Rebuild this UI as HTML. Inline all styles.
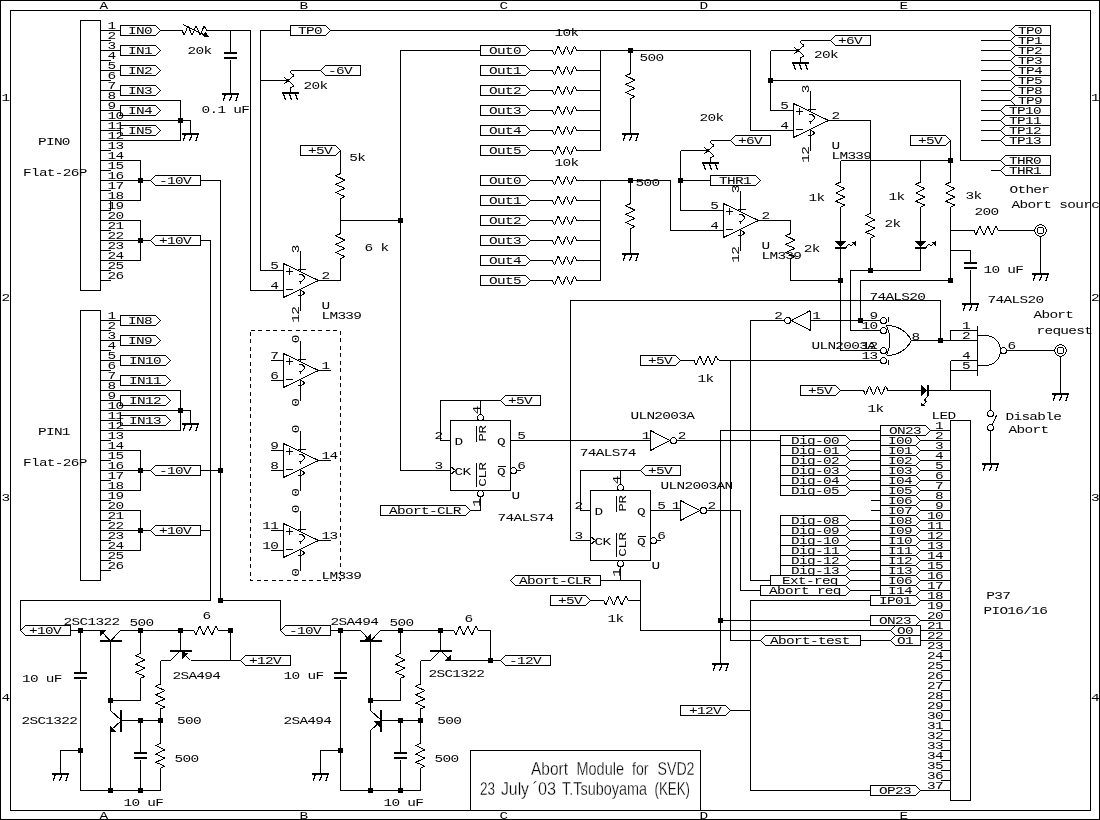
<!DOCTYPE html>
<html><head><meta charset="utf-8"><title>Abort Module for SVD2</title>
<style>
html,body{margin:0;padding:0;background:#fff;}
svg{display:block;will-change:transform}
svg path,svg rect,svg circle{fill:none;stroke:#000;stroke-width:1;shape-rendering:crispEdges;stroke-linejoin:bevel}
svg .j{fill:#000;stroke:none}
svg text{font-family:"Liberation Mono",monospace;font-size:10.6px;letter-spacing:-0.48px;fill:#000;stroke:none}
svg text.t{font-family:"Liberation Sans",sans-serif;font-size:17.8px;letter-spacing:0;stroke:#fff;stroke-width:0.3px;paint-order:fill stroke}
</style></head>
<body>
<svg width="1100" height="820" viewBox="0 0 1100 820">
<rect x="0" y="0" width="1100" height="820" style="fill:#fff;stroke:none"/>
<g transform="translate(0.5 0.5)">
<rect x="0" y="0" width="1099" height="819"/>
<rect x="10" y="10" width="1080" height="800"/>
<text transform="translate(98.9 8.5) scale(1.36 1)">A</text>
<text transform="translate(98.9 818.5) scale(1.36 1)">A</text>
<text transform="translate(298.9 8.5) scale(1.36 1)">B</text>
<text transform="translate(298.9 818.5) scale(1.36 1)">B</text>
<text transform="translate(498.9 8.5) scale(1.36 1)">C</text>
<text transform="translate(498.9 818.5) scale(1.36 1)">C</text>
<text transform="translate(698.9 8.5) scale(1.36 1)">D</text>
<text transform="translate(698.9 818.5) scale(1.36 1)">D</text>
<text transform="translate(898.9 8.5) scale(1.36 1)">E</text>
<text transform="translate(898.9 818.5) scale(1.36 1)">E</text>
<text transform="translate(0.9 100.5) scale(1.36 1)">1</text>
<text transform="translate(1090.4 100.5) scale(1.36 1)">1</text>
<text transform="translate(0.9 300.5) scale(1.36 1)">2</text>
<text transform="translate(1090.4 300.5) scale(1.36 1)">2</text>
<text transform="translate(0.9 500.5) scale(1.36 1)">3</text>
<text transform="translate(1090.4 500.5) scale(1.36 1)">3</text>
<text transform="translate(0.9 700.5) scale(1.36 1)">4</text>
<text transform="translate(1090.4 700.5) scale(1.36 1)">4</text>
<rect x="80" y="20" width="20" height="270"/>
<text transform="translate(106.9 28.2) scale(1.36 1)">1</text>
<text transform="translate(106.9 38.2) scale(1.36 1)">2</text>
<text transform="translate(106.9 48.2) scale(1.36 1)">3</text>
<text transform="translate(106.9 58.2) scale(1.36 1)">4</text>
<text transform="translate(106.9 68.2) scale(1.36 1)">5</text>
<text transform="translate(106.9 78.2) scale(1.36 1)">6</text>
<text transform="translate(106.9 88.2) scale(1.36 1)">7</text>
<text transform="translate(106.9 98.2) scale(1.36 1)">8</text>
<text transform="translate(106.9 108.2) scale(1.36 1)">9</text>
<text transform="translate(106.9 118.2) scale(1.36 1)">10</text>
<text transform="translate(106.9 128.2) scale(1.36 1)">11</text>
<text transform="translate(106.9 138.2) scale(1.36 1)">12</text>
<text transform="translate(106.9 148.2) scale(1.36 1)">13</text>
<text transform="translate(106.9 158.2) scale(1.36 1)">14</text>
<text transform="translate(106.9 168.2) scale(1.36 1)">15</text>
<text transform="translate(106.9 178.2) scale(1.36 1)">16</text>
<text transform="translate(106.9 188.2) scale(1.36 1)">17</text>
<text transform="translate(106.9 198.2) scale(1.36 1)">18</text>
<text transform="translate(106.9 208.2) scale(1.36 1)">19</text>
<text transform="translate(106.9 218.2) scale(1.36 1)">20</text>
<text transform="translate(106.9 228.2) scale(1.36 1)">21</text>
<text transform="translate(106.9 238.2) scale(1.36 1)">22</text>
<text transform="translate(106.9 248.2) scale(1.36 1)">23</text>
<text transform="translate(106.9 258.2) scale(1.36 1)">24</text>
<text transform="translate(106.9 268.2) scale(1.36 1)">25</text>
<text transform="translate(106.9 278.2) scale(1.36 1)">26</text>
<path d="M100 40 L110 40"/>
<path d="M100 60 L110 60"/>
<path d="M100 80 L110 80"/>
<path d="M100 150 L110 150"/>
<path d="M100 170 L110 170"/>
<path d="M100 190 L110 190"/>
<path d="M100 210 L110 210"/>
<path d="M100 230 L110 230"/>
<path d="M100 250 L110 250"/>
<path d="M100 270 L110 270"/>
<path d="M100 280 L110 280"/>
<path d="M100 30 L120 30"/>
<path d="M120 25 H155 L160 30 L155 35 H120 Z"/>
<text transform="translate(139.4 33.5) scale(1.36 1)" text-anchor="middle">IN0</text>
<path d="M100 50 L120 50"/>
<path d="M120 45 H155 L160 50 L155 55 H120 Z"/>
<text transform="translate(139.4 53.5) scale(1.36 1)" text-anchor="middle">IN1</text>
<path d="M100 70 L120 70"/>
<path d="M120 65 H155 L160 70 L155 75 H120 Z"/>
<text transform="translate(139.4 73.5) scale(1.36 1)" text-anchor="middle">IN2</text>
<path d="M100 90 L120 90"/>
<path d="M120 85 H155 L160 90 L155 95 H120 Z"/>
<text transform="translate(139.4 93.5) scale(1.36 1)" text-anchor="middle">IN3</text>
<path d="M100 110 L120 110"/>
<path d="M120 105 H155 L160 110 L155 115 H120 Z"/>
<text transform="translate(139.4 113.5) scale(1.36 1)" text-anchor="middle">IN4</text>
<path d="M100 130 L120 130"/>
<path d="M120 125 H155 L160 130 L155 135 H120 Z"/>
<text transform="translate(139.4 133.5) scale(1.36 1)" text-anchor="middle">IN5</text>
<path d="M100 100 L180 100 L180 140 L100 140"/>
<path d="M100 120 L190 120 L190 133"/>
<rect class="j" x="177.5" y="117.5" width="5" height="5"/>
<path d="M181.5 133.5 L198.5 133.5" style="stroke-width:2"/>
<path d="M185 134 L182.6 140.3" style="stroke-width:1.25"/>
<path d="M191.5 134 L189.1 140.3" style="stroke-width:1.25"/>
<path d="M197.7 134 L195.3 140.3" style="stroke-width:1.25"/>
<path d="M100 160 L140 160 L140 200 L100 200"/>
<path d="M100 180 L150 180"/>
<rect class="j" x="137.5" y="177.5" width="5" height="5"/>
<path d="M150 180 L155 175 H200 V185 H155 Z"/>
<text transform="translate(174.4 183.5) scale(1.36 1)" text-anchor="middle">-10V</text>
<path d="M100 220 L140 220 L140 260 L100 260"/>
<path d="M100 240 L150 240"/>
<rect class="j" x="137.5" y="237.5" width="5" height="5"/>
<path d="M150 240 L155 235 H200 V245 H155 Z"/>
<text transform="translate(174.4 243.5) scale(1.36 1)" text-anchor="middle">+10V</text>
<rect x="80" y="310" width="20" height="270"/>
<text transform="translate(106.9 318.2) scale(1.36 1)">1</text>
<text transform="translate(106.9 328.2) scale(1.36 1)">2</text>
<text transform="translate(106.9 338.2) scale(1.36 1)">3</text>
<text transform="translate(106.9 348.2) scale(1.36 1)">4</text>
<text transform="translate(106.9 358.2) scale(1.36 1)">5</text>
<text transform="translate(106.9 368.2) scale(1.36 1)">6</text>
<text transform="translate(106.9 378.2) scale(1.36 1)">7</text>
<text transform="translate(106.9 388.2) scale(1.36 1)">8</text>
<text transform="translate(106.9 398.2) scale(1.36 1)">9</text>
<text transform="translate(106.9 408.2) scale(1.36 1)">10</text>
<text transform="translate(106.9 418.2) scale(1.36 1)">11</text>
<text transform="translate(106.9 428.2) scale(1.36 1)">12</text>
<text transform="translate(106.9 438.2) scale(1.36 1)">13</text>
<text transform="translate(106.9 448.2) scale(1.36 1)">14</text>
<text transform="translate(106.9 458.2) scale(1.36 1)">15</text>
<text transform="translate(106.9 468.2) scale(1.36 1)">16</text>
<text transform="translate(106.9 478.2) scale(1.36 1)">17</text>
<text transform="translate(106.9 488.2) scale(1.36 1)">18</text>
<text transform="translate(106.9 498.2) scale(1.36 1)">19</text>
<text transform="translate(106.9 508.2) scale(1.36 1)">20</text>
<text transform="translate(106.9 518.2) scale(1.36 1)">21</text>
<text transform="translate(106.9 528.2) scale(1.36 1)">22</text>
<text transform="translate(106.9 538.2) scale(1.36 1)">23</text>
<text transform="translate(106.9 548.2) scale(1.36 1)">24</text>
<text transform="translate(106.9 558.2) scale(1.36 1)">25</text>
<text transform="translate(106.9 568.2) scale(1.36 1)">26</text>
<path d="M100 330 L110 330"/>
<path d="M100 350 L110 350"/>
<path d="M100 370 L110 370"/>
<path d="M100 440 L110 440"/>
<path d="M100 460 L110 460"/>
<path d="M100 480 L110 480"/>
<path d="M100 500 L110 500"/>
<path d="M100 520 L110 520"/>
<path d="M100 540 L110 540"/>
<path d="M100 560 L110 560"/>
<path d="M100 570 L110 570"/>
<path d="M100 320 L120 320"/>
<path d="M120 315 H155 L160 320 L155 325 H120 Z"/>
<text transform="translate(139.4 323.5) scale(1.36 1)" text-anchor="middle">IN8</text>
<path d="M100 340 L120 340"/>
<path d="M120 335 H155 L160 340 L155 345 H120 Z"/>
<text transform="translate(139.4 343.5) scale(1.36 1)" text-anchor="middle">IN9</text>
<path d="M100 360 L120 360"/>
<path d="M120 355 H165 L170 360 L165 365 H120 Z"/>
<text transform="translate(144.4 363.5) scale(1.36 1)" text-anchor="middle">IN10</text>
<path d="M100 380 L120 380"/>
<path d="M120 375 H165 L170 380 L165 385 H120 Z"/>
<text transform="translate(144.4 383.5) scale(1.36 1)" text-anchor="middle">IN11</text>
<path d="M100 400 L120 400"/>
<path d="M120 395 H165 L170 400 L165 405 H120 Z"/>
<text transform="translate(144.4 403.5) scale(1.36 1)" text-anchor="middle">IN12</text>
<path d="M100 420 L120 420"/>
<path d="M120 415 H165 L170 420 L165 425 H120 Z"/>
<text transform="translate(144.4 423.5) scale(1.36 1)" text-anchor="middle">IN13</text>
<path d="M100 390 L180 390 L180 430 L100 430"/>
<path d="M100 410 L190 410 L190 423"/>
<rect class="j" x="177.5" y="407.5" width="5" height="5"/>
<path d="M181.5 423.5 L198.5 423.5" style="stroke-width:2"/>
<path d="M185 424 L182.6 430.3" style="stroke-width:1.25"/>
<path d="M191.5 424 L189.1 430.3" style="stroke-width:1.25"/>
<path d="M197.7 424 L195.3 430.3" style="stroke-width:1.25"/>
<path d="M100 450 L140 450 L140 490 L100 490"/>
<path d="M100 470 L150 470"/>
<rect class="j" x="137.5" y="467.5" width="5" height="5"/>
<path d="M150 470 L155 465 H200 V475 H155 Z"/>
<text transform="translate(174.4 473.5) scale(1.36 1)" text-anchor="middle">-10V</text>
<path d="M100 510 L140 510 L140 550 L100 550"/>
<path d="M100 530 L150 530"/>
<rect class="j" x="137.5" y="527.5" width="5" height="5"/>
<path d="M150 530 L155 525 H200 V535 H155 Z"/>
<text transform="translate(174.4 533.5) scale(1.36 1)" text-anchor="middle">+10V</text>
<path d="M110 200 L110 210"/>
<text transform="translate(37.4 144.2) scale(1.36 1)">PIN0</text>
<text transform="translate(22.4 175.2) scale(1.36 1)">Flat-26P</text>
<text transform="translate(37.4 434.2) scale(1.36 1)">PIN1</text>
<text transform="translate(22.4 465.2) scale(1.36 1)">Flat-26P</text>
<path d="M200 180 L220 180 L220 600 L280 600 L280 630"/>
<path d="M200 470 L220 470"/>
<rect class="j" x="217.5" y="467.5" width="5" height="5"/>
<rect class="j" x="217.5" y="597.5" width="5" height="5"/>
<path d="M200 240 L210 240 L210 600 L20 600 L20 630"/>
<path d="M200 530 L210 530"/>
<path d="M160 30 L181.7 30"/>
<path d="M181.7 30 L183.6 34.7 L187.5 25.4 L191.6 34.7 L195.6 25.4 L199.6 34.7 L203.7 25.4 L206.1 30"/>
<path d="M206.1 30 L250 30"/>
<path d="M250 30 L250 290 L283 290"/>
<path d="M182.5 24 L206 35.5"/>
<path class="j" d="M208.5 36.5 L201.5 35.8 L205 31 Z"/>
<text transform="translate(186.9 53.2) scale(1.36 1)">20k</text>
<path d="M230 30 L230 52"/>
<rect class="j" x="223.5" y="51.5" width="13" height="2"/>
<rect class="j" x="223.5" y="56.5" width="13" height="2"/>
<path d="M230 59 L230 94"/>
<path d="M221.5 93.5 L238.5 93.5" style="stroke-width:2"/>
<path d="M225 94 L222.6 100.3" style="stroke-width:1.25"/>
<path d="M231.5 94 L229.1 100.3" style="stroke-width:1.25"/>
<path d="M237.7 94 L235.3 100.3" style="stroke-width:1.25"/>
<text transform="translate(200.9 112.2) scale(1.36 1)">0.1 uF</text>
<path d="M283 270 L260 270 L260 30 L290 30"/>
<path d="M290 25 H325 L330 30 L325 35 H290 Z"/>
<text transform="translate(309.4 33.5) scale(1.36 1)" text-anchor="middle">TP0</text>
<path d="M330 30 L1010 30"/>
<path d="M320 70 L325 65 H360 V75 H325 Z"/>
<text transform="translate(339.4 73.5) scale(1.36 1)" text-anchor="middle">-6V</text>
<path d="M320 70 L290 70"/>
<path d="M290 70 L290 72 L293.6 75 L287.6 80 L293.6 85.2 L290 87.5 L290 92"/>
<path d="M283.7 77 L287.8 80 L283.7 83.2"/>
<path d="M281.5 92.5 L298.5 92.5" style="stroke-width:2"/>
<path d="M283 94 L285.2 99.5" style="stroke-width:1.25"/>
<path d="M289 94 L291.2 99.5" style="stroke-width:1.25"/>
<path d="M295 94 L297.2 99.5" style="stroke-width:1.25"/>
<path d="M260 80 L288 80"/>
<text transform="translate(302.9 88.7) scale(1.36 1)">20k</text>
<path d="M283 263 L318 280 L283 297 L283 263"/>
<path d="M260 270 L283 270"/>
<path d="M250 290 L283 290"/>
<path d="M285.5 271 L292.5 271"/>
<path d="M289 267.5 L289 274.5"/>
<path d="M285.5 289 L292.5 289"/>
<path d="M300 250 L300 271"/>
<path d="M297.5 269 L305 269"/>
<path d="M298 274 L301.5 274 L304.5 277.2 L301.5 280.5 L298 280.5"/>
<path d="M300 280.5 L300 283"/>
<path d="M300 289 L300 310"/>
<path d="M300 289 L304 292.5 L300 296"/>
<path d="M297.5 294.5 L301 294.5"/>
<text transform="translate(277.7 268.5) scale(1.36 1)" text-anchor="end">5</text>
<text transform="translate(277.7 288.5) scale(1.36 1)" text-anchor="end">4</text>
<text transform="translate(320.9 278.5) scale(1.36 1)">2</text>
<text transform="translate(298.5 252.8) rotate(-90) scale(1.36 1)">3</text>
<text transform="translate(298.5 322.3) rotate(-90) scale(1.36 1)">12</text>
<text transform="translate(320.9 308.5) scale(1.36 1)">U</text>
<text transform="translate(320.9 318.5) scale(1.36 1)">LM339</text>
<path d="M318 280 L340 280"/>
<path d="M340 220 L340 233"/>
<path d="M340 233 L335.2 235.3 L344.4 239.6 L335.2 243.9 L344.4 247.9 L335.2 252.1 L344.4 256.1 L340 258"/>
<path d="M340 258 L340 280"/>
<path d="M340 150 L340 173"/>
<path d="M340 173 L335.2 175.3 L344.4 179.6 L335.2 183.9 L344.4 187.9 L335.2 192.1 L344.4 196.1 L340 198"/>
<path d="M340 198 L340 220"/>
<path d="M300 145 H335 L340 150 L335 155 H300 Z"/>
<text transform="translate(319.4 153.5) scale(1.36 1)" text-anchor="middle">+5V</text>
<text transform="translate(348.7 160.5) scale(1.36 1)">5k</text>
<text transform="translate(363.9 250.2) scale(1.36 1)">6 k</text>
<path d="M340 220 L400 220"/>
<rect class="j" x="397.5" y="217.5" width="5" height="5"/>
<path d="M480 50 L400 50 L400 470 L450 470"/>
<rect x="250" y="330" width="90" height="250" stroke-dasharray="4 3.5"/>
<path d="M283 353 L318 370 L283 387 L283 353"/>
<path d="M270 360 L283 360"/>
<path d="M270 380 L283 380"/>
<path d="M285.5 361 L292.5 361"/>
<path d="M289 357.5 L289 364.5"/>
<path d="M285.5 379 L292.5 379"/>
<path d="M300 340 L300 361"/>
<path d="M297.5 359 L305 359"/>
<path d="M298 364 L301.5 364 L304.5 367.2 L301.5 370.5 L298 370.5"/>
<path d="M300 370.5 L300 373"/>
<path d="M300 379 L300 400"/>
<path d="M300 379 L304 382.5 L300 386"/>
<path d="M297.5 384.5 L301 384.5"/>
<text transform="translate(277.7 358.5) scale(1.36 1)" text-anchor="end">7</text>
<text transform="translate(277.7 378.5) scale(1.36 1)" text-anchor="end">6</text>
<text transform="translate(320.9 368.5) scale(1.36 1)">1</text>
<text transform="translate(298.5 342.8) rotate(-90) scale(1.36 1)">0</text>
<text transform="translate(298.5 406.3) rotate(-90) scale(1.36 1)">0</text>
<path d="M318 370 L330 370"/>
<path d="M283 443 L318 460 L283 477 L283 443"/>
<path d="M270 450 L283 450"/>
<path d="M270 470 L283 470"/>
<path d="M285.5 451 L292.5 451"/>
<path d="M289 447.5 L289 454.5"/>
<path d="M285.5 469 L292.5 469"/>
<path d="M300 430 L300 451"/>
<path d="M297.5 449 L305 449"/>
<path d="M298 454 L301.5 454 L304.5 457.2 L301.5 460.5 L298 460.5"/>
<path d="M300 460.5 L300 463"/>
<path d="M300 469 L300 490"/>
<path d="M300 469 L304 472.5 L300 476"/>
<path d="M297.5 474.5 L301 474.5"/>
<text transform="translate(277.7 448.5) scale(1.36 1)" text-anchor="end">9</text>
<text transform="translate(277.7 468.5) scale(1.36 1)" text-anchor="end">8</text>
<text transform="translate(320.9 458.5) scale(1.36 1)">14</text>
<text transform="translate(298.5 432.8) rotate(-90) scale(1.36 1)">0</text>
<text transform="translate(298.5 496.3) rotate(-90) scale(1.36 1)">0</text>
<path d="M318 460 L330 460"/>
<path d="M283 523 L318 540 L283 557 L283 523"/>
<path d="M270 530 L283 530"/>
<path d="M270 550 L283 550"/>
<path d="M285.5 531 L292.5 531"/>
<path d="M289 527.5 L289 534.5"/>
<path d="M285.5 549 L292.5 549"/>
<path d="M300 510 L300 531"/>
<path d="M297.5 529 L305 529"/>
<path d="M298 534 L301.5 534 L304.5 537.2 L301.5 540.5 L298 540.5"/>
<path d="M300 540.5 L300 543"/>
<path d="M300 549 L300 570"/>
<path d="M300 549 L304 552.5 L300 556"/>
<path d="M297.5 554.5 L301 554.5"/>
<text transform="translate(277.7 528.5) scale(1.36 1)" text-anchor="end">11</text>
<text transform="translate(277.7 548.5) scale(1.36 1)" text-anchor="end">10</text>
<text transform="translate(320.9 538.5) scale(1.36 1)">13</text>
<text transform="translate(298.5 512.8) rotate(-90) scale(1.36 1)">0</text>
<text transform="translate(298.5 576.3) rotate(-90) scale(1.36 1)">0</text>
<path d="M318 540 L330 540"/>
<text transform="translate(320.9 578.7) scale(1.36 1)">LM339</text>
<path d="M480 45 H525 L530 50 L525 55 H480 Z"/>
<text transform="translate(504.4 53.5) scale(1.36 1)" text-anchor="middle">Out0</text>
<path d="M530 50 L552 50"/>
<path d="M552 50 L553.9 54.7 L557.8 45.4 L561.9 54.7 L565.9 45.4 L569.9 54.7 L574 45.4 L576.4 50"/>
<path d="M576.4 50 L600 50"/>
<path d="M480 65 H525 L530 70 L525 75 H480 Z"/>
<text transform="translate(504.4 73.5) scale(1.36 1)" text-anchor="middle">Out1</text>
<path d="M530 70 L552 70"/>
<path d="M552 70 L553.9 74.7 L557.8 65.4 L561.9 74.7 L565.9 65.4 L569.9 74.7 L574 65.4 L576.4 70"/>
<path d="M576.4 70 L600 70"/>
<path d="M480 85 H525 L530 90 L525 95 H480 Z"/>
<text transform="translate(504.4 93.5) scale(1.36 1)" text-anchor="middle">Out2</text>
<path d="M530 90 L552 90"/>
<path d="M552 90 L553.9 94.7 L557.8 85.4 L561.9 94.7 L565.9 85.4 L569.9 94.7 L574 85.4 L576.4 90"/>
<path d="M576.4 90 L600 90"/>
<path d="M480 105 H525 L530 110 L525 115 H480 Z"/>
<text transform="translate(504.4 113.5) scale(1.36 1)" text-anchor="middle">Out3</text>
<path d="M530 110 L552 110"/>
<path d="M552 110 L553.9 114.7 L557.8 105.4 L561.9 114.7 L565.9 105.4 L569.9 114.7 L574 105.4 L576.4 110"/>
<path d="M576.4 110 L600 110"/>
<path d="M480 125 H525 L530 130 L525 135 H480 Z"/>
<text transform="translate(504.4 133.5) scale(1.36 1)" text-anchor="middle">Out4</text>
<path d="M530 130 L552 130"/>
<path d="M552 130 L553.9 134.7 L557.8 125.4 L561.9 134.7 L565.9 125.4 L569.9 134.7 L574 125.4 L576.4 130"/>
<path d="M576.4 130 L600 130"/>
<path d="M480 145 H525 L530 150 L525 155 H480 Z"/>
<text transform="translate(504.4 153.5) scale(1.36 1)" text-anchor="middle">Out5</text>
<path d="M530 150 L552 150"/>
<path d="M552 150 L553.9 154.7 L557.8 145.4 L561.9 154.7 L565.9 145.4 L569.9 154.7 L574 145.4 L576.4 150"/>
<path d="M576.4 150 L600 150"/>
<path d="M600 50 L600 150"/>
<path d="M480 175 H525 L530 180 L525 185 H480 Z"/>
<text transform="translate(504.4 183.5) scale(1.36 1)" text-anchor="middle">Out0</text>
<path d="M530 180 L552 180"/>
<path d="M552 180 L553.9 184.7 L557.8 175.4 L561.9 184.7 L565.9 175.4 L569.9 184.7 L574 175.4 L576.4 180"/>
<path d="M576.4 180 L600 180"/>
<path d="M480 195 H525 L530 200 L525 205 H480 Z"/>
<text transform="translate(504.4 203.5) scale(1.36 1)" text-anchor="middle">Out1</text>
<path d="M530 200 L552 200"/>
<path d="M552 200 L553.9 204.7 L557.8 195.4 L561.9 204.7 L565.9 195.4 L569.9 204.7 L574 195.4 L576.4 200"/>
<path d="M576.4 200 L600 200"/>
<path d="M480 215 H525 L530 220 L525 225 H480 Z"/>
<text transform="translate(504.4 223.5) scale(1.36 1)" text-anchor="middle">Out2</text>
<path d="M530 220 L552 220"/>
<path d="M552 220 L553.9 224.7 L557.8 215.4 L561.9 224.7 L565.9 215.4 L569.9 224.7 L574 215.4 L576.4 220"/>
<path d="M576.4 220 L600 220"/>
<path d="M480 235 H525 L530 240 L525 245 H480 Z"/>
<text transform="translate(504.4 243.5) scale(1.36 1)" text-anchor="middle">Out3</text>
<path d="M530 240 L552 240"/>
<path d="M552 240 L553.9 244.7 L557.8 235.4 L561.9 244.7 L565.9 235.4 L569.9 244.7 L574 235.4 L576.4 240"/>
<path d="M576.4 240 L600 240"/>
<path d="M480 255 H525 L530 260 L525 265 H480 Z"/>
<text transform="translate(504.4 263.5) scale(1.36 1)" text-anchor="middle">Out4</text>
<path d="M530 260 L552 260"/>
<path d="M552 260 L553.9 264.7 L557.8 255.4 L561.9 264.7 L565.9 255.4 L569.9 264.7 L574 255.4 L576.4 260"/>
<path d="M576.4 260 L600 260"/>
<path d="M480 275 H525 L530 280 L525 285 H480 Z"/>
<text transform="translate(504.4 283.5) scale(1.36 1)" text-anchor="middle">Out5</text>
<path d="M530 280 L552 280"/>
<path d="M552 280 L553.9 284.7 L557.8 275.4 L561.9 284.7 L565.9 275.4 L569.9 284.7 L574 275.4 L576.4 280"/>
<path d="M576.4 280 L600 280"/>
<path d="M600 180 L600 280"/>
<text transform="translate(553.9 35.5) scale(1.36 1)">10k</text>
<text transform="translate(553.9 165.5) scale(1.36 1)">10k</text>
<path d="M600 50 L750 50 L750 130 L793 130"/>
<rect class="j" x="627.5" y="47.5" width="5" height="5"/>
<path d="M630 50 L630 73"/>
<path d="M630 73 L625.2 75.3 L634.4 79.6 L625.2 83.9 L634.4 87.9 L625.2 92.1 L634.4 96.1 L630 98"/>
<path d="M630 98 L630 133"/>
<path d="M621.5 133.5 L638.5 133.5" style="stroke-width:2"/>
<path d="M625 134 L622.6 140.3" style="stroke-width:1.25"/>
<path d="M631.5 134 L629.1 140.3" style="stroke-width:1.25"/>
<path d="M637.7 134 L635.3 140.3" style="stroke-width:1.25"/>
<text transform="translate(639 60.5) scale(1.36 1)">500</text>
<path d="M600 180 L670 180 L670 230 L723 230"/>
<rect class="j" x="627.5" y="177.5" width="5" height="5"/>
<path d="M630 180 L630 203"/>
<path d="M630 203 L625.2 205.3 L634.4 209.6 L625.2 213.9 L634.4 217.9 L625.2 222.1 L634.4 226.1 L630 228"/>
<path d="M630 228 L630 253"/>
<path d="M621.5 253.5 L638.5 253.5" style="stroke-width:2"/>
<path d="M625 254 L622.6 260.3" style="stroke-width:1.25"/>
<path d="M631.5 254 L629.1 260.3" style="stroke-width:1.25"/>
<path d="M637.7 254 L635.3 260.3" style="stroke-width:1.25"/>
<text transform="translate(635 185.5) scale(1.36 1)">500</text>
<path d="M730 140 L735 135 H770 V145 H735 Z"/>
<text transform="translate(749.4 143.5) scale(1.36 1)" text-anchor="middle">+6V</text>
<path d="M730 140 L710 140"/>
<path d="M710 140 L710 142 L713.6 145 L707.6 150 L713.6 155.2 L710 157.5 L710 162"/>
<path d="M703.7 147 L707.8 150 L703.7 153.2"/>
<path d="M701.5 162.5 L718.5 162.5" style="stroke-width:2"/>
<path d="M703 164 L705.2 169.5" style="stroke-width:1.25"/>
<path d="M709 164 L711.2 169.5" style="stroke-width:1.25"/>
<path d="M715 164 L717.2 169.5" style="stroke-width:1.25"/>
<path d="M680 150 L708 150"/>
<text transform="translate(698.9 120.5) scale(1.36 1)">20k</text>
<path d="M680 150 L680 210 L723 210"/>
<rect class="j" x="677.5" y="177.5" width="5" height="5"/>
<path d="M680 180 L710 180"/>
<path d="M710 175 H755 L760 180 L755 185 H710 Z"/>
<text transform="translate(734.4 183.5) scale(1.36 1)" text-anchor="middle">THR1</text>
<path d="M723 203 L758 220 L723 237 L723 203"/>
<path d="M723 210 L723 210"/>
<path d="M723 230 L723 230"/>
<path d="M725.5 211 L732.5 211"/>
<path d="M729 207.5 L729 214.5"/>
<path d="M725.5 229 L732.5 229"/>
<path d="M740 190 L740 211"/>
<path d="M737.5 209 L745 209"/>
<path d="M738 214 L741.5 214 L744.5 217.2 L741.5 220.5 L738 220.5"/>
<path d="M740 220.5 L740 223"/>
<path d="M740 229 L740 250"/>
<path d="M740 229 L744 232.5 L740 236"/>
<path d="M737.5 234.5 L741 234.5"/>
<text transform="translate(717.7 208.5) scale(1.36 1)" text-anchor="end">5</text>
<text transform="translate(717.7 228.5) scale(1.36 1)" text-anchor="end">4</text>
<text transform="translate(760.9 218.5) scale(1.36 1)">2</text>
<text transform="translate(738.5 192.8) rotate(-90) scale(1.36 1)">3</text>
<text transform="translate(738.5 262.3) rotate(-90) scale(1.36 1)">12</text>
<text transform="translate(760.9 248.5) scale(1.36 1)">U</text>
<text transform="translate(760.9 258.5) scale(1.36 1)">LM339</text>
<path d="M758 220 L790 220"/>
<path d="M790 220 L790 233"/>
<path d="M790 233 L785.2 235.3 L794.4 239.6 L785.2 243.9 L794.4 247.9 L785.2 252.1 L794.4 256.1 L790 258"/>
<path d="M790 258 L790 280"/>
<path d="M790 280 L840 280"/>
<rect class="j" x="837.5" y="277.5" width="5" height="5"/>
<text transform="translate(803.2 251.5) scale(1.36 1)">2k</text>
<path d="M830 40 L835 35 H870 V45 H835 Z"/>
<text transform="translate(849.4 43.5) scale(1.36 1)" text-anchor="middle">+6V</text>
<path d="M830 40 L800 40"/>
<path d="M800 40 L800 42 L803.6 45 L797.6 50 L803.6 55.2 L800 57.5 L800 62"/>
<path d="M793.7 47 L797.8 50 L793.7 53.2"/>
<path d="M791.5 62.5 L808.5 62.5" style="stroke-width:2"/>
<path d="M793 64 L795.2 69.5" style="stroke-width:1.25"/>
<path d="M799 64 L801.2 69.5" style="stroke-width:1.25"/>
<path d="M805 64 L807.2 69.5" style="stroke-width:1.25"/>
<path d="M770 50 L798 50"/>
<text transform="translate(813.6 57.5) scale(1.36 1)">20k</text>
<path d="M770 50 L770 110 L793 110"/>
<rect class="j" x="767.5" y="77.5" width="5" height="5"/>
<path d="M770 80 L960 80 L960 160 L1000 160"/>
<path d="M793 103 L828 120 L793 137 L793 103"/>
<path d="M793 110 L793 110"/>
<path d="M793 130 L793 130"/>
<path d="M795.5 111 L802.5 111"/>
<path d="M799 107.5 L799 114.5"/>
<path d="M795.5 129 L802.5 129"/>
<path d="M810 90 L810 111"/>
<path d="M807.5 109 L815 109"/>
<path d="M808 114 L811.5 114 L814.5 117.2 L811.5 120.5 L808 120.5"/>
<path d="M810 120.5 L810 123"/>
<path d="M810 129 L810 150"/>
<path d="M810 129 L814 132.5 L810 136"/>
<path d="M807.5 134.5 L811 134.5"/>
<text transform="translate(787.7 108.5) scale(1.36 1)" text-anchor="end">5</text>
<text transform="translate(787.7 128.5) scale(1.36 1)" text-anchor="end">4</text>
<text transform="translate(830.9 118.5) scale(1.36 1)">2</text>
<text transform="translate(808.5 92.8) rotate(-90) scale(1.36 1)">3</text>
<text transform="translate(808.5 162.3) rotate(-90) scale(1.36 1)">12</text>
<text transform="translate(830.9 148.5) scale(1.36 1)">U</text>
<text transform="translate(830.9 158.5) scale(1.36 1)">LM339</text>
<path d="M828 120 L870 120"/>
<path d="M870 120 L870 212.7"/>
<path d="M870 212.7 L865.2 215 L874.4 219.3 L865.2 223.6 L874.4 227.6 L865.2 231.8 L874.4 235.8 L870 237.7"/>
<path d="M870 237.7 L870 270"/>
<rect class="j" x="867.5" y="267.5" width="5" height="5"/>
<text transform="translate(883.9 226.5) scale(1.36 1)">2k</text>
<path d="M910 135 H945 L950 140 L945 145 H910 Z"/>
<text transform="translate(929.4 143.5) scale(1.36 1)" text-anchor="middle">+5V</text>
<path d="M950 140 L950 181.6"/>
<path d="M950 181.6 L945.2 183.9 L954.4 188.2 L945.2 192.5 L954.4 196.5 L945.2 200.7 L954.4 204.7 L950 206.6"/>
<path d="M950 206.6 L950 280"/>
<rect class="j" x="947.5" y="157.5" width="5" height="5"/>
<rect class="j" x="947.5" y="277.5" width="5" height="5"/>
<path d="M840 160 L950 160"/>
<path d="M840 160 L840 181.6"/>
<path d="M840 181.6 L835.2 183.9 L844.4 188.2 L835.2 192.5 L844.4 196.5 L835.2 200.7 L844.4 204.7 L840 206.6"/>
<path d="M840 206.6 L840 241"/>
<path class="j" d="M834.5 240.5 L845.5 240.5 L840 247 Z"/>
<path d="M834.5 247.5 L845.5 247.5" style="stroke-width:2"/>
<path d="M845.5 247 L848.5 243.5 L850.5 245.5 L854 242"/>
<path class="j" d="M856 240.5 L851.8 241.8 L855 245.2 Z"/>
<path d="M920 160 L920 181.6"/>
<path d="M920 181.6 L915.2 183.9 L924.4 188.2 L915.2 192.5 L924.4 196.5 L915.2 200.7 L924.4 204.7 L920 206.6"/>
<path d="M920 206.6 L920 241"/>
<path class="j" d="M914.5 240.5 L925.5 240.5 L920 247 Z"/>
<path d="M914.5 247.5 L925.5 247.5" style="stroke-width:2"/>
<path d="M925.5 247 L928.5 243.5 L930.5 245.5 L934 242"/>
<path class="j" d="M936 240.5 L931.8 241.8 L935 245.2 Z"/>
<path d="M840 248 L840 350 L880 350"/>
<path d="M920 248 L920 270 L850 270 L850 330 L880 330"/>
<path d="M950 280 L860 280 L860 320"/>
<rect class="j" x="857.5" y="317.5" width="5" height="5"/>
<text transform="translate(807.9 200.5) scale(1.36 1)">1k</text>
<text transform="translate(887.9 199.5) scale(1.36 1)">1k</text>
<text transform="translate(964.9 198.8) scale(1.36 1)">3k</text>
<path d="M950 230 L973.5 230"/>
<path d="M973.5 230 L975.4 234.7 L979.3 225.4 L983.4 234.7 L987.4 225.4 L991.4 234.7 L995.5 225.4 L997.9 230"/>
<path d="M997.9 230 L1034 230"/>
<circle cx="1040" cy="230" r="5.8"/>
<circle cx="1040" cy="230" r="3.3"/>
<path d="M1040 236 L1040 273"/>
<path d="M1031.5 273.5 L1048.5 273.5" style="stroke-width:2"/>
<path d="M1035 274 L1032.6 280.3" style="stroke-width:1.25"/>
<path d="M1041.5 274 L1039.1 280.3" style="stroke-width:1.25"/>
<path d="M1047.7 274 L1045.3 280.3" style="stroke-width:1.25"/>
<text transform="translate(973.9 214.7) scale(1.36 1)">200</text>
<path d="M950 250 L970 250 L970 262"/>
<rect class="j" x="963.5" y="261.5" width="13" height="2"/>
<rect class="j" x="963.5" y="266.5" width="13" height="2"/>
<path d="M970 269 L970 303"/>
<path d="M961.5 303.5 L978.5 303.5" style="stroke-width:2"/>
<path d="M965 304 L962.6 310.3" style="stroke-width:1.25"/>
<path d="M971.5 304 L969.1 310.3" style="stroke-width:1.25"/>
<path d="M977.7 304 L975.3 310.3" style="stroke-width:1.25"/>
<text transform="translate(982.9 272.7) scale(1.36 1)">10 uF</text>
<text transform="translate(987.1 302.5) scale(1.36 1)">74ALS20</text>
<text transform="translate(868.9 299.5) scale(1.36 1)">74ALS20</text>
<text transform="translate(1008.9 192.6) scale(1.36 1)">Other</text>
<text transform="translate(1010.9 207.5) scale(1.36 1)">Abort source</text>
<text transform="translate(1032.9 317.5) scale(1.36 1)">Abort</text>
<text transform="translate(1035.9 333.5) scale(1.36 1)">request</text>
<path d="M1010 30 L1015 25 H1050 V35 H1015 Z"/>
<text transform="translate(1029.4 33.5) scale(1.36 1)" text-anchor="middle">TP0</text>
<path d="M1010 40 L1015 35 H1050 V45 H1015 Z"/>
<text transform="translate(1029.4 43.5) scale(1.36 1)" text-anchor="middle">TP1</text>
<path d="M980 40 L1010 40"/>
<path d="M1010 50 L1015 45 H1050 V55 H1015 Z"/>
<text transform="translate(1029.4 53.5) scale(1.36 1)" text-anchor="middle">TP2</text>
<path d="M980 50 L1010 50"/>
<path d="M1010 60 L1015 55 H1050 V65 H1015 Z"/>
<text transform="translate(1029.4 63.5) scale(1.36 1)" text-anchor="middle">TP3</text>
<path d="M980 60 L1010 60"/>
<path d="M1010 70 L1015 65 H1050 V75 H1015 Z"/>
<text transform="translate(1029.4 73.5) scale(1.36 1)" text-anchor="middle">TP4</text>
<path d="M980 70 L1010 70"/>
<path d="M1010 80 L1015 75 H1050 V85 H1015 Z"/>
<text transform="translate(1029.4 83.5) scale(1.36 1)" text-anchor="middle">TP5</text>
<path d="M980 80 L1010 80"/>
<path d="M1010 90 L1015 85 H1050 V95 H1015 Z"/>
<text transform="translate(1029.4 93.5) scale(1.36 1)" text-anchor="middle">TP8</text>
<path d="M980 90 L1010 90"/>
<path d="M1010 100 L1015 95 H1050 V105 H1015 Z"/>
<text transform="translate(1029.4 103.5) scale(1.36 1)" text-anchor="middle">TP9</text>
<path d="M980 100 L1010 100"/>
<path d="M1000 110 L1005 105 H1050 V115 H1005 Z"/>
<text transform="translate(1024.4 113.5) scale(1.36 1)" text-anchor="middle">TP10</text>
<path d="M980 110 L1000 110"/>
<path d="M1000 120 L1005 115 H1050 V125 H1005 Z"/>
<text transform="translate(1024.4 123.5) scale(1.36 1)" text-anchor="middle">TP11</text>
<path d="M980 120 L1000 120"/>
<path d="M1000 130 L1005 125 H1050 V135 H1005 Z"/>
<text transform="translate(1024.4 133.5) scale(1.36 1)" text-anchor="middle">TP12</text>
<path d="M980 130 L1000 130"/>
<path d="M1000 140 L1005 135 H1050 V145 H1005 Z"/>
<text transform="translate(1024.4 143.5) scale(1.36 1)" text-anchor="middle">TP13</text>
<path d="M980 140 L1000 140"/>
<path d="M1000 160 L1005 155 H1050 V165 H1005 Z"/>
<text transform="translate(1024.4 163.5) scale(1.36 1)" text-anchor="middle">THR0</text>
<path d="M1000 170 L1005 165 H1050 V175 H1005 Z"/>
<text transform="translate(1024.4 173.5) scale(1.36 1)" text-anchor="middle">THR1</text>
<path d="M990 170 L1000 170"/>
<path d="M590 540 L570 540 L570 300 L940 300 L940 340"/>
<rect class="j" x="937.5" y="337.5" width="5" height="5"/>
<path d="M810 310 L810 330 L791 320 L810 310"/>
<circle cx="787.3" cy="320" r="3"/>
<path d="M784 320 L750 320 L750 580 L770 580"/>
<path d="M810 320 L880 320"/>
<text transform="translate(773.7 318.5) scale(1.36 1)">2</text>
<text transform="translate(811.7 318.5) scale(1.36 1)">1</text>
<text transform="translate(810.9 348.7) scale(1.36 1)">ULN2003A</text>
<circle cx="883" cy="320" r="3"/>
<circle cx="883" cy="330" r="3"/>
<circle cx="883" cy="350" r="3"/>
<circle cx="883" cy="360" r="3"/>
<path d="M886 325 C897 325 906 331 911 340 C906 349 897 355 886 355"/>
<path d="M886 325 Q893 340 886 355"/>
<path d="M888 316 L888 321"/>
<path d="M888 359 L888 364"/>
<path d="M911 340 L977 340"/>
<text transform="translate(876.9 318.7) scale(1.36 1)" text-anchor="end">9</text>
<text transform="translate(876.9 328.7) scale(1.36 1)" text-anchor="end">10</text>
<text transform="translate(876.9 348.7) scale(1.36 1)" text-anchor="end">12</text>
<text transform="translate(876.9 358.7) scale(1.36 1)" text-anchor="end">13</text>
<text transform="translate(910.9 339.7) scale(1.36 1)">8</text>
<path d="M977 330 L950 330 L950 340"/>
<path d="M977 360 L950 360"/>
<path d="M977 370 L950 370"/>
<path d="M950 360 L950 390"/>
<path d="M977 325 L977 375"/>
<path d="M977 335 H985 A15 15 0 0 1 985 365 H977"/>
<circle cx="1003" cy="350" r="3"/>
<path d="M1006 350 L1054 350"/>
<circle cx="1060" cy="350" r="5.8"/>
<circle cx="1060" cy="350" r="3.3"/>
<path d="M1060 356 L1060 393"/>
<path d="M1051.5 393.5 L1068.5 393.5" style="stroke-width:2"/>
<path d="M1055 394 L1052.6 400.3" style="stroke-width:1.25"/>
<path d="M1061.5 394 L1059.1 400.3" style="stroke-width:1.25"/>
<path d="M1067.7 394 L1065.3 400.3" style="stroke-width:1.25"/>
<text transform="translate(961.4 328.2) scale(1.36 1)">1</text>
<text transform="translate(961.4 338.2) scale(1.36 1)">2</text>
<text transform="translate(961.4 358.2) scale(1.36 1)">4</text>
<text transform="translate(961.4 368.2) scale(1.36 1)">5</text>
<text transform="translate(1006.9 348.7) scale(1.36 1)">6</text>
<path d="M640 355 H675 L680 360 L675 365 H640 Z"/>
<text transform="translate(659.4 363.5) scale(1.36 1)" text-anchor="middle">+5V</text>
<path d="M680 360 L693.6 360"/>
<path d="M693.6 360 L695.5 364.7 L699.4 355.4 L703.5 364.7 L707.5 355.4 L711.5 364.7 L715.6 355.4 L718 360"/>
<path d="M718 360 L880 360"/>
<text transform="translate(696.9 381.5) scale(1.36 1)">1k</text>
<path d="M730 360 L730 640 L760 640"/>
<path d="M800 385 H835 L840 390 L835 395 H800 Z"/>
<text transform="translate(819.4 393.5) scale(1.36 1)" text-anchor="middle">+5V</text>
<path d="M840 390 L863.1 390"/>
<path d="M863.1 390 L865 394.7 L868.9 385.4 L873 394.7 L877 385.4 L881 394.7 L885.1 385.4 L887.5 390"/>
<path d="M887.5 390 L921 390"/>
<path class="j" d="M920.5 384.5 L920.5 395.5 L927 390 Z"/>
<path d="M927.5 384.5 L927.5 395.5" style="stroke-width:2"/>
<path d="M927.5 390 L990 390 L990 410"/>
<path d="M927.5 395.5 L924 399.5 L925.7 401 L922.5 404.5"/>
<path class="j" d="M920.5 406 L921 402.3 L924.7 405.5 Z"/>
<text transform="translate(867.1 411.2) scale(1.36 1)">1k</text>
<text transform="translate(930.9 418.2) scale(1.36 1)">LED</text>
<circle cx="990" cy="413" r="3"/>
<circle cx="990" cy="427" r="3"/>
<path d="M996 415 L991.5 424.5"/>
<path d="M990 430 L990 463"/>
<path d="M981.5 463.5 L998.5 463.5" style="stroke-width:2"/>
<path d="M985 464 L982.6 470.3" style="stroke-width:1.25"/>
<path d="M991.5 464 L989.1 470.3" style="stroke-width:1.25"/>
<path d="M997.7 464 L995.3 470.3" style="stroke-width:1.25"/>
<text transform="translate(1004.9 419.6) scale(1.36 1)">Disable</text>
<text transform="translate(1008.1 432.4) scale(1.36 1)">Abort</text>
<rect x="450" y="420" width="60" height="70"/>
<path d="M450 466 L455 470 L450 474"/>
<text transform="translate(454.1 444.7) scale(1.36 1)">D</text>
<text transform="translate(454.1 474.7) scale(1.36 1)">CK</text>
<text transform="translate(496.4 444.5) scale(1.36 1)">Q</text>
<text transform="translate(496.4 474.2) scale(1.36 1)">Q</text>
<path d="M497.5 466 L505.5 466"/>
<text transform="translate(485.5 441.3) rotate(-90) scale(1.36 1)">PR</text>
<path d="M476 425 L476 441"/>
<text transform="translate(485.5 486.3) rotate(-90) scale(1.36 1)">CLR</text>
<path d="M476 462 L476 486"/>
<circle cx="480" cy="417" r="3"/>
<circle cx="480" cy="493" r="3"/>
<circle cx="513" cy="470" r="3"/>
<path d="M516 470 L520.5 470"/>
<text transform="translate(441.9 438.7) scale(1.36 1)" text-anchor="end">2</text>
<text transform="translate(441.9 468.7) scale(1.36 1)" text-anchor="end">3</text>
<text transform="translate(516.7 438.7) scale(1.36 1)">5</text>
<text transform="translate(516.7 468.7) scale(1.36 1)">6</text>
<text transform="translate(479.5 413.7) rotate(-90) scale(1.36 1)">4</text>
<text transform="translate(479.5 506.3) rotate(-90) scale(1.36 1)">1</text>
<text transform="translate(511.1 498.7) scale(1.36 1)">U</text>
<path d="M500 400 L505 395 H540 V405 H505 Z"/>
<text transform="translate(519.4 403.5) scale(1.36 1)" text-anchor="middle">+5V</text>
<path d="M500 400 L440 400 L440 440 L450 440"/>
<path d="M480 400 L480 414"/>
<path d="M510 440 L650 440"/>
<path d="M480 496 L480 510 L470 510"/>
<path d="M380 505 H465 L470 510 L465 515 H380 Z"/>
<text transform="translate(424.4 513.5) scale(1.36 1)" text-anchor="middle">Abort-CLR</text>
<text transform="translate(497.1 520.5) scale(1.36 1)">74ALS74</text>
<text transform="translate(579.2 455.5) scale(1.36 1)">74ALS74</text>
<rect x="590" y="490" width="60" height="70"/>
<path d="M590 536 L595 540 L590 544"/>
<text transform="translate(594.1 514.7) scale(1.36 1)">D</text>
<text transform="translate(594.1 544.7) scale(1.36 1)">CK</text>
<text transform="translate(636.4 514.5) scale(1.36 1)">Q</text>
<text transform="translate(636.4 544.2) scale(1.36 1)">Q</text>
<path d="M637.5 536 L645.5 536"/>
<text transform="translate(625.5 511.3) rotate(-90) scale(1.36 1)">PR</text>
<path d="M616 495 L616 511"/>
<text transform="translate(625.5 556.3) rotate(-90) scale(1.36 1)">CLR</text>
<path d="M616 532 L616 556"/>
<circle cx="620" cy="487" r="3"/>
<circle cx="620" cy="563" r="3"/>
<circle cx="653" cy="540" r="3"/>
<path d="M656 540 L660.5 540"/>
<text transform="translate(581.9 508.7) scale(1.36 1)" text-anchor="end">2</text>
<text transform="translate(581.9 538.7) scale(1.36 1)" text-anchor="end">3</text>
<text transform="translate(656.7 508.7) scale(1.36 1)">5</text>
<text transform="translate(656.7 538.7) scale(1.36 1)">6</text>
<text transform="translate(619.5 483.7) rotate(-90) scale(1.36 1)">4</text>
<text transform="translate(619.5 576.3) rotate(-90) scale(1.36 1)">1</text>
<text transform="translate(651.1 568.7) scale(1.36 1)">U</text>
<path d="M640 470 L645 465 H680 V475 H645 Z"/>
<text transform="translate(659.4 473.5) scale(1.36 1)" text-anchor="middle">+5V</text>
<path d="M640 470 L580 470 L580 510 L590 510"/>
<path d="M620 470 L620 484"/>
<path d="M650 510 L680 510"/>
<path d="M620 566 L620 580"/>
<path d="M510 580 L515 575 H600 V585 H515 Z"/>
<text transform="translate(554.4 583.5) scale(1.36 1)" text-anchor="middle">Abort-CLR</text>
<path d="M600 580 L640 580 L640 630 L890 630"/>
<path d="M550 595 H585 L590 600 L585 605 H550 Z"/>
<text transform="translate(569.4 603.5) scale(1.36 1)" text-anchor="middle">+5V</text>
<path d="M590 600 L603.3 600"/>
<path d="M603.3 600 L605.2 604.7 L609.1 595.4 L613.2 604.7 L617.2 595.4 L621.2 604.7 L625.3 595.4 L627.7 600"/>
<path d="M627.7 600 L640 600"/>
<text transform="translate(606.9 621.2) scale(1.36 1)">1k</text>
<path d="M650 430 L650 450 L669.5 440 L650 430"/>
<circle cx="673" cy="440" r="3"/>
<path d="M676 440 L780 440"/>
<text transform="translate(641.2 438.5) scale(1.36 1)">1</text>
<text transform="translate(677.2 438.5) scale(1.36 1)">2</text>
<text transform="translate(629.9 418.5) scale(1.36 1)">ULN2003A</text>
<path d="M680 500 L680 520 L699.5 510 L680 500"/>
<circle cx="703" cy="510" r="3"/>
<path d="M706 510 L740 510 L740 590 L760 590"/>
<text transform="translate(671.2 508.7) scale(1.36 1)">1</text>
<text transform="translate(706.9 508.7) scale(1.36 1)">2</text>
<text transform="translate(660 488.5) scale(1.36 1)">ULN2003AN</text>
<path d="M880 430 L720 430 L720 663"/>
<path d="M711.5 663.5 L728.5 663.5" style="stroke-width:2"/>
<path d="M715 664 L712.6 670.3" style="stroke-width:1.25"/>
<path d="M721.5 664 L719.1 670.3" style="stroke-width:1.25"/>
<path d="M727.7 664 L725.3 670.3" style="stroke-width:1.25"/>
<rect class="j" x="717.5" y="617.5" width="5" height="5"/>
<path d="M720 620 L870 620"/>
<rect x="950" y="420" width="20" height="380"/>
<text transform="translate(942.4 428.2) scale(1.36 1)" text-anchor="end">1</text>
<text transform="translate(942.4 438.2) scale(1.36 1)" text-anchor="end">2</text>
<text transform="translate(942.4 448.2) scale(1.36 1)" text-anchor="end">3</text>
<text transform="translate(942.4 458.2) scale(1.36 1)" text-anchor="end">4</text>
<text transform="translate(942.4 468.2) scale(1.36 1)" text-anchor="end">5</text>
<text transform="translate(942.4 478.2) scale(1.36 1)" text-anchor="end">6</text>
<text transform="translate(942.4 488.2) scale(1.36 1)" text-anchor="end">7</text>
<text transform="translate(942.4 498.2) scale(1.36 1)" text-anchor="end">8</text>
<text transform="translate(942.4 508.2) scale(1.36 1)" text-anchor="end">9</text>
<text transform="translate(942.4 518.2) scale(1.36 1)" text-anchor="end">10</text>
<text transform="translate(942.4 528.2) scale(1.36 1)" text-anchor="end">11</text>
<text transform="translate(942.4 538.2) scale(1.36 1)" text-anchor="end">12</text>
<text transform="translate(942.4 548.2) scale(1.36 1)" text-anchor="end">13</text>
<text transform="translate(942.4 558.2) scale(1.36 1)" text-anchor="end">14</text>
<text transform="translate(942.4 568.2) scale(1.36 1)" text-anchor="end">15</text>
<text transform="translate(942.4 578.2) scale(1.36 1)" text-anchor="end">16</text>
<text transform="translate(942.4 588.2) scale(1.36 1)" text-anchor="end">17</text>
<text transform="translate(942.4 598.2) scale(1.36 1)" text-anchor="end">18</text>
<text transform="translate(942.4 608.2) scale(1.36 1)" text-anchor="end">19</text>
<text transform="translate(942.4 618.2) scale(1.36 1)" text-anchor="end">20</text>
<text transform="translate(942.4 628.2) scale(1.36 1)" text-anchor="end">21</text>
<text transform="translate(942.4 638.2) scale(1.36 1)" text-anchor="end">22</text>
<text transform="translate(942.4 648.2) scale(1.36 1)" text-anchor="end">23</text>
<text transform="translate(942.4 658.2) scale(1.36 1)" text-anchor="end">24</text>
<text transform="translate(942.4 668.2) scale(1.36 1)" text-anchor="end">25</text>
<text transform="translate(942.4 678.2) scale(1.36 1)" text-anchor="end">26</text>
<text transform="translate(942.4 688.2) scale(1.36 1)" text-anchor="end">27</text>
<text transform="translate(942.4 698.2) scale(1.36 1)" text-anchor="end">28</text>
<text transform="translate(942.4 708.2) scale(1.36 1)" text-anchor="end">29</text>
<text transform="translate(942.4 718.2) scale(1.36 1)" text-anchor="end">30</text>
<text transform="translate(942.4 728.2) scale(1.36 1)" text-anchor="end">31</text>
<text transform="translate(942.4 738.2) scale(1.36 1)" text-anchor="end">32</text>
<text transform="translate(942.4 748.2) scale(1.36 1)" text-anchor="end">33</text>
<text transform="translate(942.4 758.2) scale(1.36 1)" text-anchor="end">34</text>
<text transform="translate(942.4 768.2) scale(1.36 1)" text-anchor="end">35</text>
<text transform="translate(942.4 778.2) scale(1.36 1)" text-anchor="end">36</text>
<text transform="translate(942.4 788.2) scale(1.36 1)" text-anchor="end">37</text>
<path d="M880 425 H925 L930 430 L925 435 H880 Z"/>
<text transform="translate(904.4 433.5) scale(1.36 1)" text-anchor="middle">ON23</text>
<path d="M930 430 L950 430"/>
<path d="M780 435 H845 L850 440 L845 445 H780 Z"/>
<text transform="translate(814.4 443.5) scale(1.36 1)" text-anchor="middle">Dig-00</text>
<path d="M850 440 L880 440"/>
<path d="M880 435 H915 L920 440 L915 445 H880 Z"/>
<text transform="translate(899.4 443.5) scale(1.36 1)" text-anchor="middle">I00</text>
<path d="M920 440 L950 440"/>
<path d="M780 445 H845 L850 450 L845 455 H780 Z"/>
<text transform="translate(814.4 453.5) scale(1.36 1)" text-anchor="middle">Dig-01</text>
<path d="M850 450 L880 450"/>
<path d="M880 445 H915 L920 450 L915 455 H880 Z"/>
<text transform="translate(899.4 453.5) scale(1.36 1)" text-anchor="middle">I01</text>
<path d="M920 450 L950 450"/>
<path d="M780 455 H845 L850 460 L845 465 H780 Z"/>
<text transform="translate(814.4 463.5) scale(1.36 1)" text-anchor="middle">Dig-02</text>
<path d="M850 460 L880 460"/>
<path d="M880 455 H915 L920 460 L915 465 H880 Z"/>
<text transform="translate(899.4 463.5) scale(1.36 1)" text-anchor="middle">I02</text>
<path d="M920 460 L950 460"/>
<path d="M780 465 H845 L850 470 L845 475 H780 Z"/>
<text transform="translate(814.4 473.5) scale(1.36 1)" text-anchor="middle">Dig-03</text>
<path d="M850 470 L880 470"/>
<path d="M880 465 H915 L920 470 L915 475 H880 Z"/>
<text transform="translate(899.4 473.5) scale(1.36 1)" text-anchor="middle">I03</text>
<path d="M920 470 L950 470"/>
<path d="M780 475 H845 L850 480 L845 485 H780 Z"/>
<text transform="translate(814.4 483.5) scale(1.36 1)" text-anchor="middle">Dig-04</text>
<path d="M850 480 L880 480"/>
<path d="M880 475 H915 L920 480 L915 485 H880 Z"/>
<text transform="translate(899.4 483.5) scale(1.36 1)" text-anchor="middle">I04</text>
<path d="M920 480 L950 480"/>
<path d="M780 485 H845 L850 490 L845 495 H780 Z"/>
<text transform="translate(814.4 493.5) scale(1.36 1)" text-anchor="middle">Dig-05</text>
<path d="M850 490 L880 490"/>
<path d="M880 485 H915 L920 490 L915 495 H880 Z"/>
<text transform="translate(899.4 493.5) scale(1.36 1)" text-anchor="middle">I05</text>
<path d="M920 490 L950 490"/>
<path d="M880 495 H915 L920 500 L915 505 H880 Z"/>
<text transform="translate(899.4 503.5) scale(1.36 1)" text-anchor="middle">I06</text>
<path d="M920 500 L950 500"/>
<path d="M870 500 L880 500"/>
<path d="M880 505 H915 L920 510 L915 515 H880 Z"/>
<text transform="translate(899.4 513.5) scale(1.36 1)" text-anchor="middle">I07</text>
<path d="M920 510 L950 510"/>
<path d="M870 510 L880 510"/>
<path d="M780 515 H845 L850 520 L845 525 H780 Z"/>
<text transform="translate(814.4 523.5) scale(1.36 1)" text-anchor="middle">Dig-08</text>
<path d="M850 520 L880 520"/>
<path d="M880 515 H915 L920 520 L915 525 H880 Z"/>
<text transform="translate(899.4 523.5) scale(1.36 1)" text-anchor="middle">I08</text>
<path d="M920 520 L950 520"/>
<path d="M780 525 H845 L850 530 L845 535 H780 Z"/>
<text transform="translate(814.4 533.5) scale(1.36 1)" text-anchor="middle">Dig-09</text>
<path d="M850 530 L880 530"/>
<path d="M880 525 H915 L920 530 L915 535 H880 Z"/>
<text transform="translate(899.4 533.5) scale(1.36 1)" text-anchor="middle">I09</text>
<path d="M920 530 L950 530"/>
<path d="M780 535 H845 L850 540 L845 545 H780 Z"/>
<text transform="translate(814.4 543.5) scale(1.36 1)" text-anchor="middle">Dig-10</text>
<path d="M850 540 L880 540"/>
<path d="M880 535 H915 L920 540 L915 545 H880 Z"/>
<text transform="translate(899.4 543.5) scale(1.36 1)" text-anchor="middle">I10</text>
<path d="M920 540 L950 540"/>
<path d="M780 545 H845 L850 550 L845 555 H780 Z"/>
<text transform="translate(814.4 553.5) scale(1.36 1)" text-anchor="middle">Dig-11</text>
<path d="M850 550 L880 550"/>
<path d="M880 545 H915 L920 550 L915 555 H880 Z"/>
<text transform="translate(899.4 553.5) scale(1.36 1)" text-anchor="middle">I11</text>
<path d="M920 550 L950 550"/>
<path d="M780 555 H845 L850 560 L845 565 H780 Z"/>
<text transform="translate(814.4 563.5) scale(1.36 1)" text-anchor="middle">Dig-12</text>
<path d="M850 560 L880 560"/>
<path d="M880 555 H915 L920 560 L915 565 H880 Z"/>
<text transform="translate(899.4 563.5) scale(1.36 1)" text-anchor="middle">I12</text>
<path d="M920 560 L950 560"/>
<path d="M780 565 H845 L850 570 L845 575 H780 Z"/>
<text transform="translate(814.4 573.5) scale(1.36 1)" text-anchor="middle">Dig-13</text>
<path d="M850 570 L880 570"/>
<path d="M880 565 H915 L920 570 L915 575 H880 Z"/>
<text transform="translate(899.4 573.5) scale(1.36 1)" text-anchor="middle">I13</text>
<path d="M920 570 L950 570"/>
<path d="M770 575 H845 L850 580 L845 585 H770 Z"/>
<text transform="translate(809.4 583.5) scale(1.36 1)" text-anchor="middle">Ext-req</text>
<path d="M850 580 L880 580"/>
<path d="M880 575 H915 L920 580 L915 585 H880 Z"/>
<text transform="translate(899.4 583.5) scale(1.36 1)" text-anchor="middle">I06</text>
<path d="M920 580 L950 580"/>
<path d="M760 585 H845 L850 590 L845 595 H760 Z"/>
<text transform="translate(804.4 593.5) scale(1.36 1)" text-anchor="middle">Abort req</text>
<path d="M850 590 L880 590"/>
<path d="M880 585 H915 L920 590 L915 595 H880 Z"/>
<text transform="translate(899.4 593.5) scale(1.36 1)" text-anchor="middle">I14</text>
<path d="M920 590 L950 590"/>
<path d="M870 595 H915 L920 600 L915 605 H870 Z"/>
<text transform="translate(894.4 603.5) scale(1.36 1)" text-anchor="middle">IP01</text>
<path d="M920 600 L950 600"/>
<path d="M940 610 L950 610"/>
<path d="M870 615 H915 L920 620 L915 625 H870 Z"/>
<text transform="translate(894.4 623.5) scale(1.36 1)" text-anchor="middle">ON23</text>
<path d="M920 620 L950 620"/>
<path d="M890 630 L895 625 H920 V635 H895 Z"/>
<text transform="translate(904.4 633.5) scale(1.36 1)" text-anchor="middle">O0</text>
<path d="M920 630 L950 630"/>
<path d="M890 640 L895 635 H920 V645 H895 Z"/>
<text transform="translate(904.4 643.5) scale(1.36 1)" text-anchor="middle">O1</text>
<path d="M920 640 L950 640"/>
<path d="M760 640 L765 635 H860 V645 H765 Z"/>
<text transform="translate(809.4 643.5) scale(1.36 1)" text-anchor="middle">Abort-test</text>
<path d="M860 640 L890 640"/>
<path d="M940 650 L950 650"/>
<path d="M940 660 L950 660"/>
<path d="M940 670 L950 670"/>
<path d="M940 680 L950 680"/>
<path d="M940 690 L950 690"/>
<path d="M940 700 L950 700"/>
<path d="M940 710 L950 710"/>
<path d="M940 720 L950 720"/>
<path d="M940 730 L950 730"/>
<path d="M940 740 L950 740"/>
<path d="M940 750 L950 750"/>
<path d="M940 760 L950 760"/>
<path d="M940 770 L950 770"/>
<path d="M940 780 L950 780"/>
<path d="M870 785 H915 L920 790 L915 795 H870 Z"/>
<text transform="translate(894.4 793.5) scale(1.36 1)" text-anchor="middle">OP23</text>
<path d="M920 790 L950 790"/>
<path d="M870 600 L750 600 L750 790 L870 790"/>
<path d="M680 705 H725 L730 710 L725 715 H680 Z"/>
<text transform="translate(704.4 713.5) scale(1.36 1)" text-anchor="middle">+12V</text>
<path d="M730 710 L750 710"/>
<text transform="translate(985.7 598.5) scale(1.36 1)">P37</text>
<text transform="translate(982.9 613.5) scale(1.36 1)">PIO16/16</text>
<path d="M20 630 L25 625 H70 V635 H25 Z"/>
<text transform="translate(44.4 633.5) scale(1.36 1)" text-anchor="middle">+10V</text>
<path d="M70 630 L100 630 L110 640.5 L120 630 L193.4 630"/>
<rect class="j" x="77.5" y="627.5" width="5" height="5"/>
<rect class="j" x="137.5" y="627.5" width="5" height="5"/>
<rect class="j" x="177.5" y="627.5" width="5" height="5"/>
<path d="M99.5 640.5 L121 640.5" style="stroke-width:2"/>
<path d="M110 640.5 L110 710 L121 720 L110 730 L110 790"/>
<rect class="j" x="107.5" y="697.5" width="5" height="5"/>
<path d="M120.5 709.5 L120.5 731" style="stroke-width:2"/>
<path class="j" d="M99.5 629.5 L106 629.5 L99.5 636 Z"/>
<path class="j" d="M109.5 725 L109.5 731.5 L116 731.5 Z"/>
<path d="M80 630 L80 672"/>
<rect class="j" x="73.5" y="671.5" width="13" height="2"/>
<rect class="j" x="73.5" y="676.5" width="13" height="2"/>
<path d="M80 679 L80 790 L160 790"/>
<rect class="j" x="77.5" y="747.5" width="5" height="5"/>
<path d="M80 750 L60 750 L60 773"/>
<path d="M51.5 773.5 L68.5 773.5" style="stroke-width:2"/>
<path d="M55 774 L52.6 780.3" style="stroke-width:1.25"/>
<path d="M61.5 774 L59.1 780.3" style="stroke-width:1.25"/>
<path d="M67.7 774 L65.3 780.3" style="stroke-width:1.25"/>
<rect class="j" x="107.5" y="787.5" width="5" height="5"/>
<rect class="j" x="137.5" y="787.5" width="5" height="5"/>
<path d="M140 630 L140 652.8"/>
<path d="M140 652.8 L135.2 655.1 L144.4 659.4 L135.2 663.7 L144.4 667.7 L135.2 671.9 L144.4 675.9 L140 677.8"/>
<path d="M140 677.8 L140 700"/>
<path d="M140 700 L110 700"/>
<path d="M121 720 L160 720"/>
<rect class="j" x="137.5" y="717.5" width="5" height="5"/>
<rect class="j" x="157.5" y="717.5" width="5" height="5"/>
<path d="M140 720 L140 752"/>
<rect class="j" x="133.5" y="751.5" width="13" height="2"/>
<rect class="j" x="133.5" y="756.5" width="13" height="2"/>
<path d="M140 759 L140 790"/>
<path d="M160 720 L160 742.7"/>
<path d="M160 742.7 L155.2 745 L164.4 749.3 L155.2 753.6 L164.4 757.6 L155.2 761.8 L164.4 765.8 L160 767.7"/>
<path d="M160 767.7 L160 790"/>
<path d="M160 660 L160 683.5"/>
<path d="M160 683.5 L155.2 685.8 L164.4 690.1 L155.2 694.4 L164.4 698.4 L155.2 702.6 L164.4 706.6 L160 708.5"/>
<path d="M160 708.5 L160 720"/>
<path d="M160 660 L170 660 L180 650 L190 660"/>
<path d="M180 630 L180 650"/>
<path d="M169.5 650.5 L191 650.5" style="stroke-width:2"/>
<path class="j" d="M181 651.5 L188.5 652.5 L182 658.5 Z"/>
<path d="M193.4 630 L195.3 634.7 L199.2 625.4 L203.3 634.7 L207.3 625.4 L211.3 634.7 L215.4 625.4 L217.8 630"/>
<text transform="translate(63.1 624.5) scale(1.36 1)">2SC1322</text>
<text transform="translate(129 625.5) scale(1.36 1)">500</text>
<text transform="translate(202.1 618.5) scale(1.36 1)">6</text>
<text transform="translate(21.4 681.5) scale(1.36 1)">10 uF</text>
<text transform="translate(20.9 723.5) scale(1.36 1)">2SC1322</text>
<text transform="translate(176.6 723.5) scale(1.36 1)">500</text>
<text transform="translate(174 761.8) scale(1.36 1)">500</text>
<text transform="translate(122.9 805.7) scale(1.36 1)">10 uF</text>
<path d="M217.8 630 L230 630 L230 660"/>
<rect class="j" x="227.5" y="627.5" width="5" height="5"/>
<path d="M190 660 L240 660"/>
<path d="M240 660 L245 655 H290 V665 H245 Z"/>
<text transform="translate(264.4 663.5) scale(1.36 1)" text-anchor="middle">+12V</text>
<text transform="translate(171.9 678) scale(1.36 1)">2SA494</text>
<path d="M280 630 L285 625 H330 V635 H285 Z"/>
<text transform="translate(304.4 633.5) scale(1.36 1)" text-anchor="middle">-10V</text>
<path d="M330 630 L360 630 L370 640.5 L380 630 L453.4 630"/>
<rect class="j" x="337.5" y="627.5" width="5" height="5"/>
<rect class="j" x="397.5" y="627.5" width="5" height="5"/>
<rect class="j" x="437.5" y="627.5" width="5" height="5"/>
<path d="M359.5 640.5 L381 640.5" style="stroke-width:2"/>
<path d="M370 640.5 L370 710 L381 720 L370 730 L370 790"/>
<rect class="j" x="367.5" y="697.5" width="5" height="5"/>
<path d="M380.5 709.5 L380.5 731" style="stroke-width:2"/>
<path class="j" d="M370.5 640 L363.5 639.5 L370.5 632.5 Z"/>
<path class="j" d="M380.5 720.5 L373 721 L380.5 727.5 Z"/>
<path d="M340 630 L340 672"/>
<rect class="j" x="333.5" y="671.5" width="13" height="2"/>
<rect class="j" x="333.5" y="676.5" width="13" height="2"/>
<path d="M340 679 L340 790 L420 790"/>
<rect class="j" x="337.5" y="747.5" width="5" height="5"/>
<path d="M340 750 L320 750 L320 773"/>
<path d="M311.5 773.5 L328.5 773.5" style="stroke-width:2"/>
<path d="M315 774 L312.6 780.3" style="stroke-width:1.25"/>
<path d="M321.5 774 L319.1 780.3" style="stroke-width:1.25"/>
<path d="M327.7 774 L325.3 780.3" style="stroke-width:1.25"/>
<rect class="j" x="367.5" y="787.5" width="5" height="5"/>
<rect class="j" x="397.5" y="787.5" width="5" height="5"/>
<path d="M400 630 L400 652.8"/>
<path d="M400 652.8 L395.2 655.1 L404.4 659.4 L395.2 663.7 L404.4 667.7 L395.2 671.9 L404.4 675.9 L400 677.8"/>
<path d="M400 677.8 L400 700"/>
<path d="M400 700 L370 700"/>
<path d="M381 720 L420 720"/>
<rect class="j" x="397.5" y="717.5" width="5" height="5"/>
<rect class="j" x="417.5" y="717.5" width="5" height="5"/>
<path d="M400 720 L400 752"/>
<rect class="j" x="393.5" y="751.5" width="13" height="2"/>
<rect class="j" x="393.5" y="756.5" width="13" height="2"/>
<path d="M400 759 L400 790"/>
<path d="M420 720 L420 742.7"/>
<path d="M420 742.7 L415.2 745 L424.4 749.3 L415.2 753.6 L424.4 757.6 L415.2 761.8 L424.4 765.8 L420 767.7"/>
<path d="M420 767.7 L420 790"/>
<path d="M420 660 L420 683.5"/>
<path d="M420 683.5 L415.2 685.8 L424.4 690.1 L415.2 694.4 L424.4 698.4 L415.2 702.6 L424.4 706.6 L420 708.5"/>
<path d="M420 708.5 L420 720"/>
<path d="M420 660 L430 660 L440 650 L450 660"/>
<path d="M440 630 L440 650"/>
<path d="M429.5 650.5 L451 650.5" style="stroke-width:2"/>
<path class="j" d="M450.5 661 L444 660.5 L450.5 654 Z"/>
<path d="M453.4 630 L455.3 634.7 L459.2 625.4 L463.3 634.7 L467.3 625.4 L471.3 634.7 L475.4 625.4 L477.8 630"/>
<text transform="translate(329.9 624.5) scale(1.36 1)">2SA494</text>
<text transform="translate(389 625.5) scale(1.36 1)">500</text>
<text transform="translate(463.9 621.5) scale(1.36 1)">6</text>
<text transform="translate(283.1 678.5) scale(1.36 1)">10 uF</text>
<text transform="translate(282.9 723.8) scale(1.36 1)">2SA494</text>
<text transform="translate(436.8 723.1) scale(1.36 1)">500</text>
<text transform="translate(434 761.6) scale(1.36 1)">500</text>
<text transform="translate(382.9 805.7) scale(1.36 1)">10 uF</text>
<path d="M477.8 630 L490 630 L490 660"/>
<rect class="j" x="487.5" y="657.5" width="5" height="5"/>
<path d="M450 660 L500 660"/>
<path d="M500 660 L505 655 H550 V665 H505 Z"/>
<text transform="translate(524.4 663.5) scale(1.36 1)" text-anchor="middle">-12V</text>
<text transform="translate(427.9 676.5) scale(1.36 1)">2SC1322</text>
<path d="M470 810 L470 750 L700 750 L700 810"/>
<text class="t" y="774"><tspan x="530.5" textLength="37" lengthAdjust="spacingAndGlyphs">Abort</tspan> <tspan x="576" textLength="47.5" lengthAdjust="spacingAndGlyphs">Module</tspan> <tspan x="631.5" textLength="16.5" lengthAdjust="spacingAndGlyphs">for</tspan> <tspan x="657" textLength="37" lengthAdjust="spacingAndGlyphs">SVD2</tspan></text>
<text class="t" y="794"><tspan x="479.5" textLength="15" lengthAdjust="spacingAndGlyphs">23</tspan> <tspan x="500.5" textLength="28" lengthAdjust="spacingAndGlyphs">July</tspan> <tspan x="532" textLength="23.5" lengthAdjust="spacingAndGlyphs">&#180;03</tspan> <tspan x="561.5" textLength="85" lengthAdjust="spacingAndGlyphs">T.Tsuboyama</tspan> <tspan x="654" textLength="35.5" lengthAdjust="spacingAndGlyphs">(KEK)</tspan></text>
</g>
</svg>
</body></html>
